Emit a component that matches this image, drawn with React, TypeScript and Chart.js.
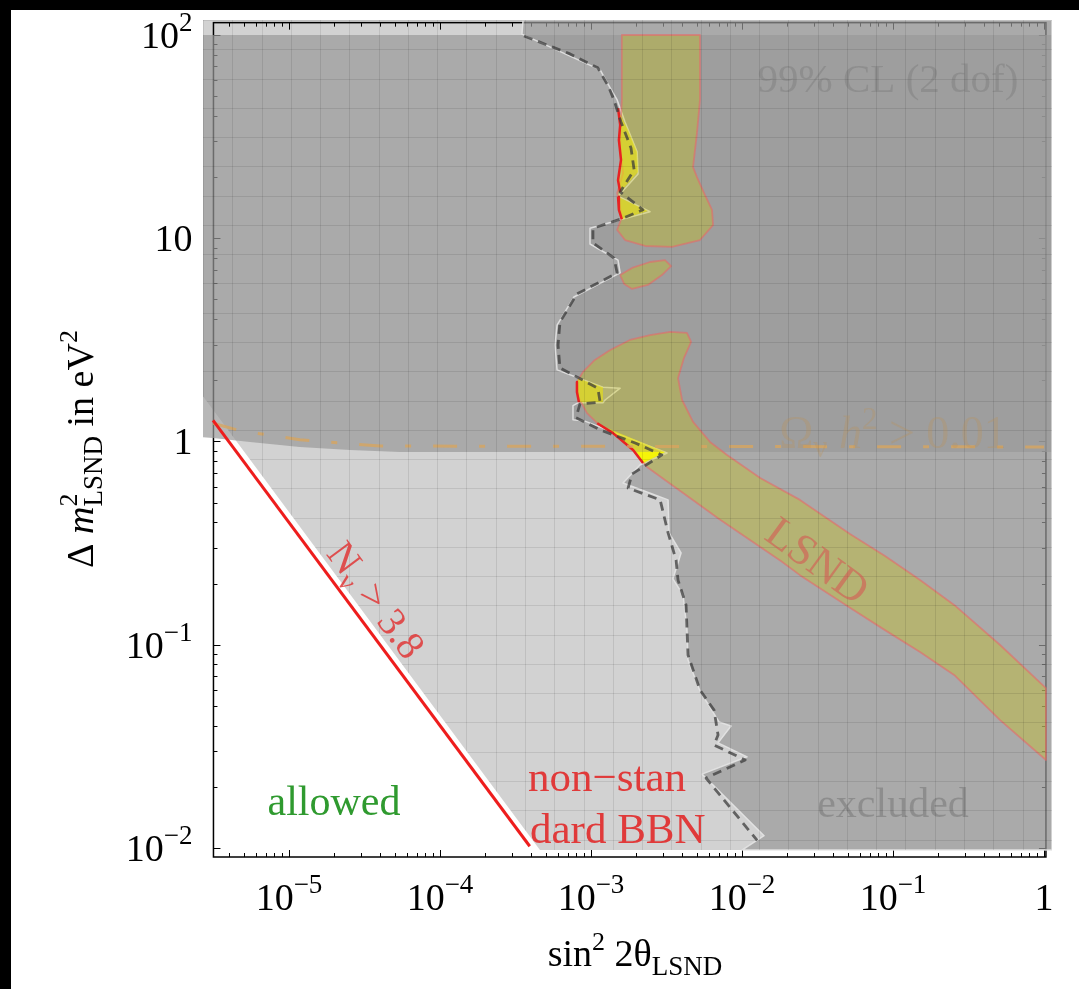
import React, { useEffect, useRef } from "react";
import { Chart, registerables } from "chart.js";
Chart.register(...registerables);

type P = [number, number];

// ---- axis ranges ----
const X_MIN = 2.694e-6, X_MAX = 1.1297;
const Y_MIN = 0.009031, Y_MAX = 118.5;
const FRAME_X: P = [3.16e-6, 1.03];
const FRAME_Y: P = [0.009031, 115];

// ---- tick labels ----
const xMajorTicks = [1e-5, 1e-4, 1e-3, 1e-2, 1e-1, 1];
const xTickLabels: [string, string][] = [["10", "−5"], ["10", "−4"], ["10", "−3"], ["10", "−2"], ["10", "−1"], ["1", ""]];
const yMajorTicks = [1e-2, 1e-1, 1, 10, 100];
const yTickLabels: [string, string][] = [["10", "−2"], ["10", "−1"], ["1", ""], ["10", ""], ["10", "2"]];

// ---- regions (sin^2 2θ, Δm^2) ----
const bbnRegion: P[] = [[2.69e-6, 118.5], [1.13, 118.5], [1.13, 0.00977], [4.59e-4, 0.00977], [2.69e-6, 1.67]];
const omegaRegion: P[] = [[2.69e-6, 100], [1.13, 100], [1.13, 0.888], [5.43e-5, 0.888], [2.54e-5, 0.908], [1.18e-5, 0.94], [5.52e-6, 0.995], [3.14e-6, 1.04], [2.69e-6, 1.05]];
const omegaContour: P[] = [[3.14e-6, 1.23], [4.73e-6, 1.13], [1.18e-5, 1.02], [4.01e-5, 0.95], [1.0, 0.94]];
const excludedRegion: P[] = [
  [3.55e-4, 118.5], [3.49e-4, 101], [1.15e-3, 67.3], [1.34e-3, 54.9], [1.49e-3, 47.9], [1.68e-3, 37.3], [2.02e-3, 26.6],
  [2.05e-3, 20.7], [1.51e-3, 16.1], [2.46e-3, 13.5], [1.6e-3, 12.4], [9.85e-4, 11.2], [9.85e-4, 9.37], [1.51e-3, 7.81],
  [1.56e-3, 6.75], [7.71e-4, 5.14], [5.96e-4, 3.74], [5.78e-4, 2.98], [5.96e-4, 2.25], [1.2e-3, 1.85], [1.56e-3, 1.83],
  [1.24e-3, 1.6], [1.2e-3, 1.55], [8.2e-4, 1.55], [7.6e-4, 1.5], [7.6e-4, 1.28], [9.12e-4, 1.26], [3.19e-3, 0.878],
  [2.11e-3, 0.766], [1.63e-3, 0.625], [3.24e-3, 0.516], [3.29e-3, 0.355], [3.95e-3, 0.283], [3.49e-3, 0.211],
  [4.07e-3, 0.176], [4.32e-3, 0.119], [4.39e-3, 0.0841], [5.27e-3, 0.0592], [7.05e-3, 0.0417], [8.46e-3, 0.0398],
  [6.94e-3, 0.0329], [1.08e-2, 0.0281], [5.43e-3, 0.0231], [6.94e-3, 0.0193], [1.4e-2, 0.0115], [1.0e-2, 0.00977],
  [1.13, 0.00977], [1.13, 118.5], [3.55e-4, 118.5],
];
const dashedBoundary: P[] = [
  [3.6e-4, 98.9], [7.26e-4, 80.7], [1.11e-3, 68.9], [1.3e-3, 56.1], [1.42e-3, 47.9], [1.58e-3, 37.3], [1.84e-3, 27.8],
  [1.93e-3, 21.7], [1.56e-3, 16.9], [2.21e-3, 13.8], [1.56e-3, 12.4], [1.03e-3, 11.2], [1.03e-3, 9.48], [1.42e-3, 7.99],
  [1.49e-3, 6.75], [8.07e-4, 5.32], [6.23e-4, 3.87], [6.05e-4, 2.98], [6.23e-4, 2.3], [1.11e-3, 1.83], [1.15e-3, 1.56],
  [8.45e-4, 1.53], [7.96e-4, 1.31], [1.15e-3, 1.14], [1.96e-3, 0.983], [2.95e-3, 0.859], [1.87e-3, 0.692], [1.76e-3, 0.59],
  [2.87e-3, 0.516], [3.24e-3, 0.355], [3.66e-3, 0.261], [3.77e-3, 0.208], [4.26e-3, 0.157], [4.39e-3, 0.0891],
  [5.27e-3, 0.0599], [6.53e-3, 0.0477], [6.94e-3, 0.036], [6.53e-3, 0.0321], [1.05e-2, 0.0271], [5.78e-3, 0.0221],
  [7.15e-3, 0.0182], [1.26e-2, 0.0109],
];
const lsndUpper: P[] = [
  [1.6e-3, 100], [1.6e-3, 47.9], [1.56e-3, 32.9], [1.56e-3, 27.2], [1.63e-3, 20.9], [1.49e-3, 16.7], [1.6e-3, 12.7],
  [1.49e-3, 11.0], [1.68e-3, 9.8], [2.28e-3, 9.16], [3.44e-3, 9.06], [5.27e-3, 9.8], [6.43e-3, 11.6], [6.33e-3, 13.8],
  [5.69e-3, 16.3], [5.03e-3, 20.0], [4.74e-3, 22.4], [5.03e-3, 32.9], [5.27e-3, 47.9], [5.27e-3, 100], [1.6e-3, 100],
];
const lsndIsland: P[] = [
  [1.56e-3, 6.59], [1.66e-3, 5.95], [1.87e-3, 5.63], [2.38e-3, 5.89], [2.95e-3, 6.59], [3.39e-3, 7.3], [3.09e-3, 7.81],
  [2.46e-3, 7.64], [1.87e-3, 7.14], [1.56e-3, 6.59],
];
const lsndLower: P[] = [
  [8.85e-4, 2.2], [1.06e-3, 2.52], [1.34e-3, 2.82], [1.81e-3, 3.16], [2.46e-3, 3.34], [3.34e-3, 3.46], [4.32e-3, 3.42],
  [4.6e-3, 3.09], [4.13e-3, 2.58], [3.77e-3, 2.05], [4.01e-3, 1.6], [4.74e-3, 1.25], [6.14e-3, 0.995], [7.96e-3, 0.859],
  [1.32e-2, 0.661], [2.42e-2, 0.516], [5.19e-2, 0.351], [8.85e-2, 0.273], [0.151, 0.208], [0.254, 0.157], [0.512, 0.0997],
  [1.03, 0.0612], [1.03, 0.0271], [0.512, 0.0426], [0.254, 0.071], [0.151, 0.0921], [8.85e-2, 0.118], [5.19e-2, 0.152],
  [2.42e-2, 0.22], [1.81e-2, 0.258], [1.13e-2, 0.328], [7.05e-3, 0.416], [4.53e-3, 0.527], [3.09e-3, 0.647],
  [2.35e-3, 0.749], [1.9e-3, 0.908], [1.4e-3, 1.1], [1.1e-3, 1.23], [9.41e-4, 1.38], [8.2e-4, 1.66], [8.07e-4, 1.96],
  [8.85e-4, 2.2],
];
const patchA: P[] = [[1.53e-3, 41.8], [1.76e-3, 34.1], [2.02e-3, 26.6], [2.05e-3, 21.2], [1.56e-3, 16.9], [1.51e-3, 19.3], [1.58e-3, 24.3], [1.53e-3, 30.4], [1.56e-3, 36.1]];
const patchB: P[] = [[1.51e-3, 16.0], [2.38e-3, 13.6], [1.6e-3, 12.4], [1.53e-3, 13.8]];
const patchC: P[] = [[8.2e-4, 2.05], [1.2e-3, 1.85], [1.2e-3, 1.56], [8.32e-4, 1.56], [8.07e-4, 1.75]];
const patchD: P[] = [[1.02e-3, 1.25], [3.09e-3, 0.888], [2.21e-3, 0.784], [1.9e-3, 0.908], [1.4e-3, 1.1], [1.11e-3, 1.22]];
const patchTip: P[] = [[2.02e-3, 0.888], [3.09e-3, 0.888], [2.21e-3, 0.784]];
const edgeA: P[] = [[1.51e-3, 43.7], [1.56e-3, 36.1], [1.53e-3, 30.4], [1.58e-3, 24.3], [1.51e-3, 19.3], [1.56e-3, 16.9]];
const edgeB: P[] = [[1.51e-3, 16.0], [1.53e-3, 13.8], [1.6e-3, 12.4]];
const edgeC: P[] = [[8.07e-4, 1.96], [8.07e-4, 1.75], [8.32e-4, 1.56]];
const edgeD: P[] = [[1.1e-3, 1.23], [1.4e-3, 1.1], [1.9e-3, 0.908], [2.21e-3, 0.784]];
const nuLine: P[] = [[3.14e-6, 1.27], [3.93e-4, 0.0102]];

// ---------------------------------------------------------------
const FONT = '"Liberation Serif","DejaVu Serif","Times New Roman",serif';
type Seg = { t: string; s: number; dy?: number; it?: boolean; keep?: boolean };

function segFont(g: Seg) {
  return `${g.it ? "italic " : ""}${g.s}px ${FONT}`;
}
function richWidth(ctx: CanvasRenderingContext2D, segs: Seg[]) {
  let w = 0, kept = 0;
  for (const g of segs) {
    ctx.font = segFont(g);
    const m = ctx.measureText(g.t).width;
    if (g.keep) { kept = m; continue; }
    w += Math.max(m, kept);
    kept = 0;
  }
  return w + kept;
}
function drawRich(ctx: CanvasRenderingContext2D, segs: Seg[], x: number, y: number, align: string) {
  const w = richWidth(ctx, segs);
  let cx = align === "center" ? x - w / 2 : align === "right" ? x - w : x;
  let kept = 0;
  ctx.textAlign = "left";
  ctx.textBaseline = "alphabetic";
  for (const g of segs) {
    ctx.font = segFont(g);
    ctx.fillText(g.t, cx, y + (g.dy || 0));
    const m = ctx.measureText(g.t).width;
    if (g.keep) { kept = m; continue; }
    cx += Math.max(m, kept);
    kept = 0;
  }
}
function minorTicks(lo: number, hi: number) {
  const out: number[] = [];
  for (let e = -7; e <= 3; e++)
    for (let m = 1; m <= 9; m++) {
      const v = m * Math.pow(10, e);
      if (v >= lo * 0.9999 && v <= hi * 1.0001) out.push(v);
    }
  return out;
}
const isMajor = (v: number, majors: number[]) => majors.some((t) => Math.abs(Math.log10(v) - Math.log10(t)) < 1e-6);
const pts = (a: P[]) => a.map(([x, y]) => ({ x, y }));

const MESH_CELL = 29.27; // region mesh spacing in px

const decor = {
  id: "decor",
  beforeDraw(chart: any) {
    const { ctx, width, height } = chart;
    ctx.save();
    ctx.fillStyle = "#000";
    ctx.fillRect(0, 0, width, height);
    ctx.fillStyle = "#fff";
    ctx.fillRect(11, 10, width - 11, height - 10);
    ctx.restore();
  },
  beforeDatasetsDraw(chart: any) {
    const { ctx } = chart;
    const xs = chart.scales.x, ys = chart.scales.y;
    const L = xs.getPixelForValue(FRAME_X[0]), R = xs.getPixelForValue(FRAME_X[1]);
    const B = ys.getPixelForValue(FRAME_Y[0]), T = ys.getPixelForValue(FRAME_Y[1]);
    ctx.save();
    ctx.strokeStyle = "#000";
    ctx.lineWidth = 1.5;
    ctx.strokeRect(L, T, R - L, B - T);
    ctx.lineWidth = 1;
    ctx.beginPath();
    for (const t of xs.ticks) {
      const p = Math.round(xs.getPixelForValue(t.value)) + 0.5;
      const len = isMajor(t.value, xMajorTicks) ? 7 : 4;
      ctx.moveTo(p, B); ctx.lineTo(p, B - len);
      ctx.moveTo(p, T); ctx.lineTo(p, T + len);
    }
    for (const t of ys.ticks) {
      const p = Math.round(ys.getPixelForValue(t.value)) + 0.5;
      const len = isMajor(t.value, yMajorTicks) ? 7 : 4;
      ctx.moveTo(L, p); ctx.lineTo(L + len, p);
      ctx.moveTo(R, p); ctx.lineTo(R - len, p);
    }
    ctx.stroke();
    ctx.restore();
  },
  afterDatasetsDraw(chart: any) {
    // uniform region mesh, only inside the shaded region
    const { ctx, chartArea: a } = chart;
    const meta = chart.getDatasetMeta(0);
    ctx.save();
    ctx.beginPath();
    meta.data.forEach((p: any, i: number) => (i ? ctx.lineTo(p.x, p.y) : ctx.moveTo(p.x, p.y)));
    ctx.closePath();
    ctx.clip();
    ctx.strokeStyle = "rgba(0,0,0,0.09)";
    ctx.lineWidth = 1;
    ctx.beginPath();
    for (let px = a.left; px <= a.right + 1; px += MESH_CELL) {
      const p = Math.round(px) + 0.5;
      ctx.moveTo(p, a.top); ctx.lineTo(p, a.bottom);
    }
    for (let py = a.top; py <= a.bottom + 1; py += MESH_CELL) {
      const p = Math.round(py) + 0.5;
      ctx.moveTo(a.left, p); ctx.lineTo(a.right, p);
    }
    ctx.stroke();
    ctx.restore();
  },
  afterDraw(chart: any) {
    const { ctx } = chart;
    const xs = chart.scales.x, ys = chart.scales.y;
    const L = xs.getPixelForValue(FRAME_X[0]);
    const B = ys.getPixelForValue(FRAME_Y[0]);
    ctx.save();
    ctx.fillStyle = "#000";
    xMajorTicks.forEach((v, i) => {
      const [b, s] = xTickLabels[i];
      const segs: Seg[] = [{ t: b, s: 38 }];
      if (s) segs.push({ t: s, s: 27, dy: -17 });
      drawRich(ctx, segs, xs.getPixelForValue(v), B + 53, "center");
    });
    yMajorTicks.forEach((v, i) => {
      const [b, s] = yTickLabels[i];
      const segs: Seg[] = [{ t: b, s: 38 }];
      if (s) segs.push({ t: s, s: 27, dy: -17 });
      drawRich(ctx, segs, L - 21, ys.getPixelForValue(v) + 13, "right");
    });
    // axis titles
    drawRich(ctx, [{ t: "sin", s: 38 }, { t: "2", s: 26, dy: -16 }, { t: " 2θ", s: 38 }, { t: "LSND", s: 27, dy: 9 }], 635, 966, "center");
    ctx.save();
    ctx.translate(93, 449);
    ctx.rotate(-Math.PI / 2);
    drawRich(ctx, [
      { t: "Δ ", s: 38 }, { t: "m", s: 38, it: true }, { t: "2", s: 26, dy: -16, keep: true }, { t: "LSND", s: 27, dy: 9 },
      { t: " in eV", s: 38 }, { t: "2", s: 26, dy: -16 },
    ], 0, 0, "center");
    ctx.restore();
    // annotations
    ctx.fillStyle = "rgba(60,60,60,0.16)";
    drawRich(ctx, [{ t: "99% CL (2 dof)", s: 41 }], 888, 92, "center");
    ctx.fillStyle = "rgba(190,145,80,0.28)";
    drawRich(ctx, [{ t: "Ω", s: 46 }, { t: "ν", s: 31, dy: 9 }, { t: " ", s: 46 }, { t: "h", s: 46, it: true }, { t: "2", s: 31, dy: -19 }, { t: " > 0.01", s: 46 }], 893, 448, "center");
    ctx.fillStyle = "rgba(0,0,0,0.17)";
    drawRich(ctx, [{ t: "excluded", s: 42 }], 893, 817, "center");
    ctx.fillStyle = "#2f9a2f";
    drawRich(ctx, [{ t: "allowed", s: 42 }], 334, 815, "center");
    ctx.fillStyle = "#e03a3a";
    drawRich(ctx, [{ t: "non−stan", s: 43 }], 528, 791, "left");
    drawRich(ctx, [{ t: "dard BBN", s: 43 }], 530, 843, "left");
    ctx.save();
    ctx.translate(818, 560);
    ctx.rotate((36 * Math.PI) / 180);
    ctx.fillStyle = "rgba(215,80,80,0.55)";
    drawRich(ctx, [{ t: "LSND", s: 44 }], 0, 15, "center");
    ctx.restore();
    ctx.save();
    ctx.translate(376, 600);
    ctx.rotate((53.3 * Math.PI) / 180);
    ctx.fillStyle = "rgba(225,55,55,0.85)";
    drawRich(ctx, [{ t: "N", s: 40 }, { t: "ν", s: 28, dy: 8 }, { t: " > 3.8", s: 40 }], 0, 13, "center");
    ctx.restore();
    ctx.restore();
  },
};

function poly(label: string, data: P[], order: number, bg: string, border = "rgba(0,0,0,0)", bw = 0) {
  return {
    label, data: pts(data), order, showLine: true, fill: "shape", backgroundColor: bg,
    borderColor: border, borderWidth: bw, borderJoinStyle: "round", pointRadius: 0, pointHoverRadius: 0,
  };
}
function curve(label: string, data: P[], order: number, color: string, bw: number, dash: number[] = []) {
  return {
    label, data: pts(data), order, showLine: true, fill: false, borderColor: color, borderWidth: bw,
    borderDash: dash, borderJoinStyle: "round", pointRadius: 0, pointHoverRadius: 0,
  };
}

export default function App() {
  const ref = useRef<HTMLCanvasElement>(null);
  useEffect(() => {
    const greyOver = "rgba(152,152,152,0.7)";
    const lsndFill = "rgba(205,200,0,0.32)";
    const lsndBorder = "rgba(230,105,105,0.6)";
    const chart = new Chart(ref.current as HTMLCanvasElement, {
      type: "scatter",
      data: {
        datasets: [
          poly("non-standard BBN", bbnRegion, 100, "rgba(0,0,0,0.175)"),
          poly("Omega h2 > 0.01", omegaRegion, 95, greyOver),
          poly("excluded", excludedRegion, 90, greyOver, "rgba(228,228,228,0.9)", 1.5),
          poly("LSND upper", lsndUpper, 80, lsndFill, lsndBorder, 1.8),
          poly("LSND island", lsndIsland, 80, lsndFill, lsndBorder, 1.8),
          poly("LSND lower", lsndLower, 80, lsndFill, lsndBorder, 1.8),
          poly("allowed A", patchA, 70, "rgba(238,232,0,0.55)"),
          poly("allowed B", patchB, 70, "rgba(238,232,0,0.55)"),
          poly("allowed C", patchC, 70, "rgba(238,232,0,0.55)"),
          poly("allowed D", patchD, 70, "rgba(238,232,0,0.55)"),
          poly("allowed tip", patchTip, 69, "rgba(248,248,0,0.85)"),
          curve("edge A", edgeA, 60, "#e82222", 2.5),
          curve("edge B", edgeB, 60, "#e82222", 2.5),
          curve("edge C", edgeC, 60, "#e82222", 2.5),
          curve("edge D", edgeD, 60, "#e82222", 2.5),
          curve("bound", dashedBoundary, 50, "rgba(60,60,60,0.75)", 2.8, [9, 6]),
          curve("Omega contour", omegaContour, 45, "rgba(215,165,95,0.8)", 3, [24, 22, 6, 22]),
          curve("N_nu > 3.8", nuLine, 40, "#ee1d1d", 3),
        ] as any,
      },
      options: {
        responsive: false,
        animation: false,
        devicePixelRatio: 1,
        events: [],
        layout: { padding: { left: 203, right: 27, top: 20, bottom: 132 } },
        plugins: { legend: { display: false }, tooltip: { enabled: false }, title: { display: false } },
        scales: {
          x: {
            type: "logarithmic", min: X_MIN, max: X_MAX,
            grid: { display: false, drawTicks: false }, border: { display: false }, ticks: { display: false },
            afterBuildTicks: (s: any) => { s.ticks = minorTicks(FRAME_X[0], FRAME_X[1]).map((v) => ({ value: v })); },
            afterFit: (s: any) => { s.height = 0; },
          },
          y: {
            type: "logarithmic", min: Y_MIN, max: Y_MAX,
            grid: { display: false, drawTicks: false }, border: { display: false }, ticks: { display: false },
            afterBuildTicks: (s: any) => { s.ticks = minorTicks(FRAME_Y[0], FRAME_Y[1]).map((v) => ({ value: v })); },
            afterFit: (s: any) => { s.width = 0; },
          },
        },
      } as any,
      plugins: [decor],
    });
    return () => chart.destroy();
  }, []);
  return (
    <div style={{ position: "absolute", left: 0, top: 0, width: 1079, height: 989 }}>
      <canvas ref={ref} width={1079} height={989} style={{ display: "block", width: 1079, height: 989 }} />
    </div>
  );
}
